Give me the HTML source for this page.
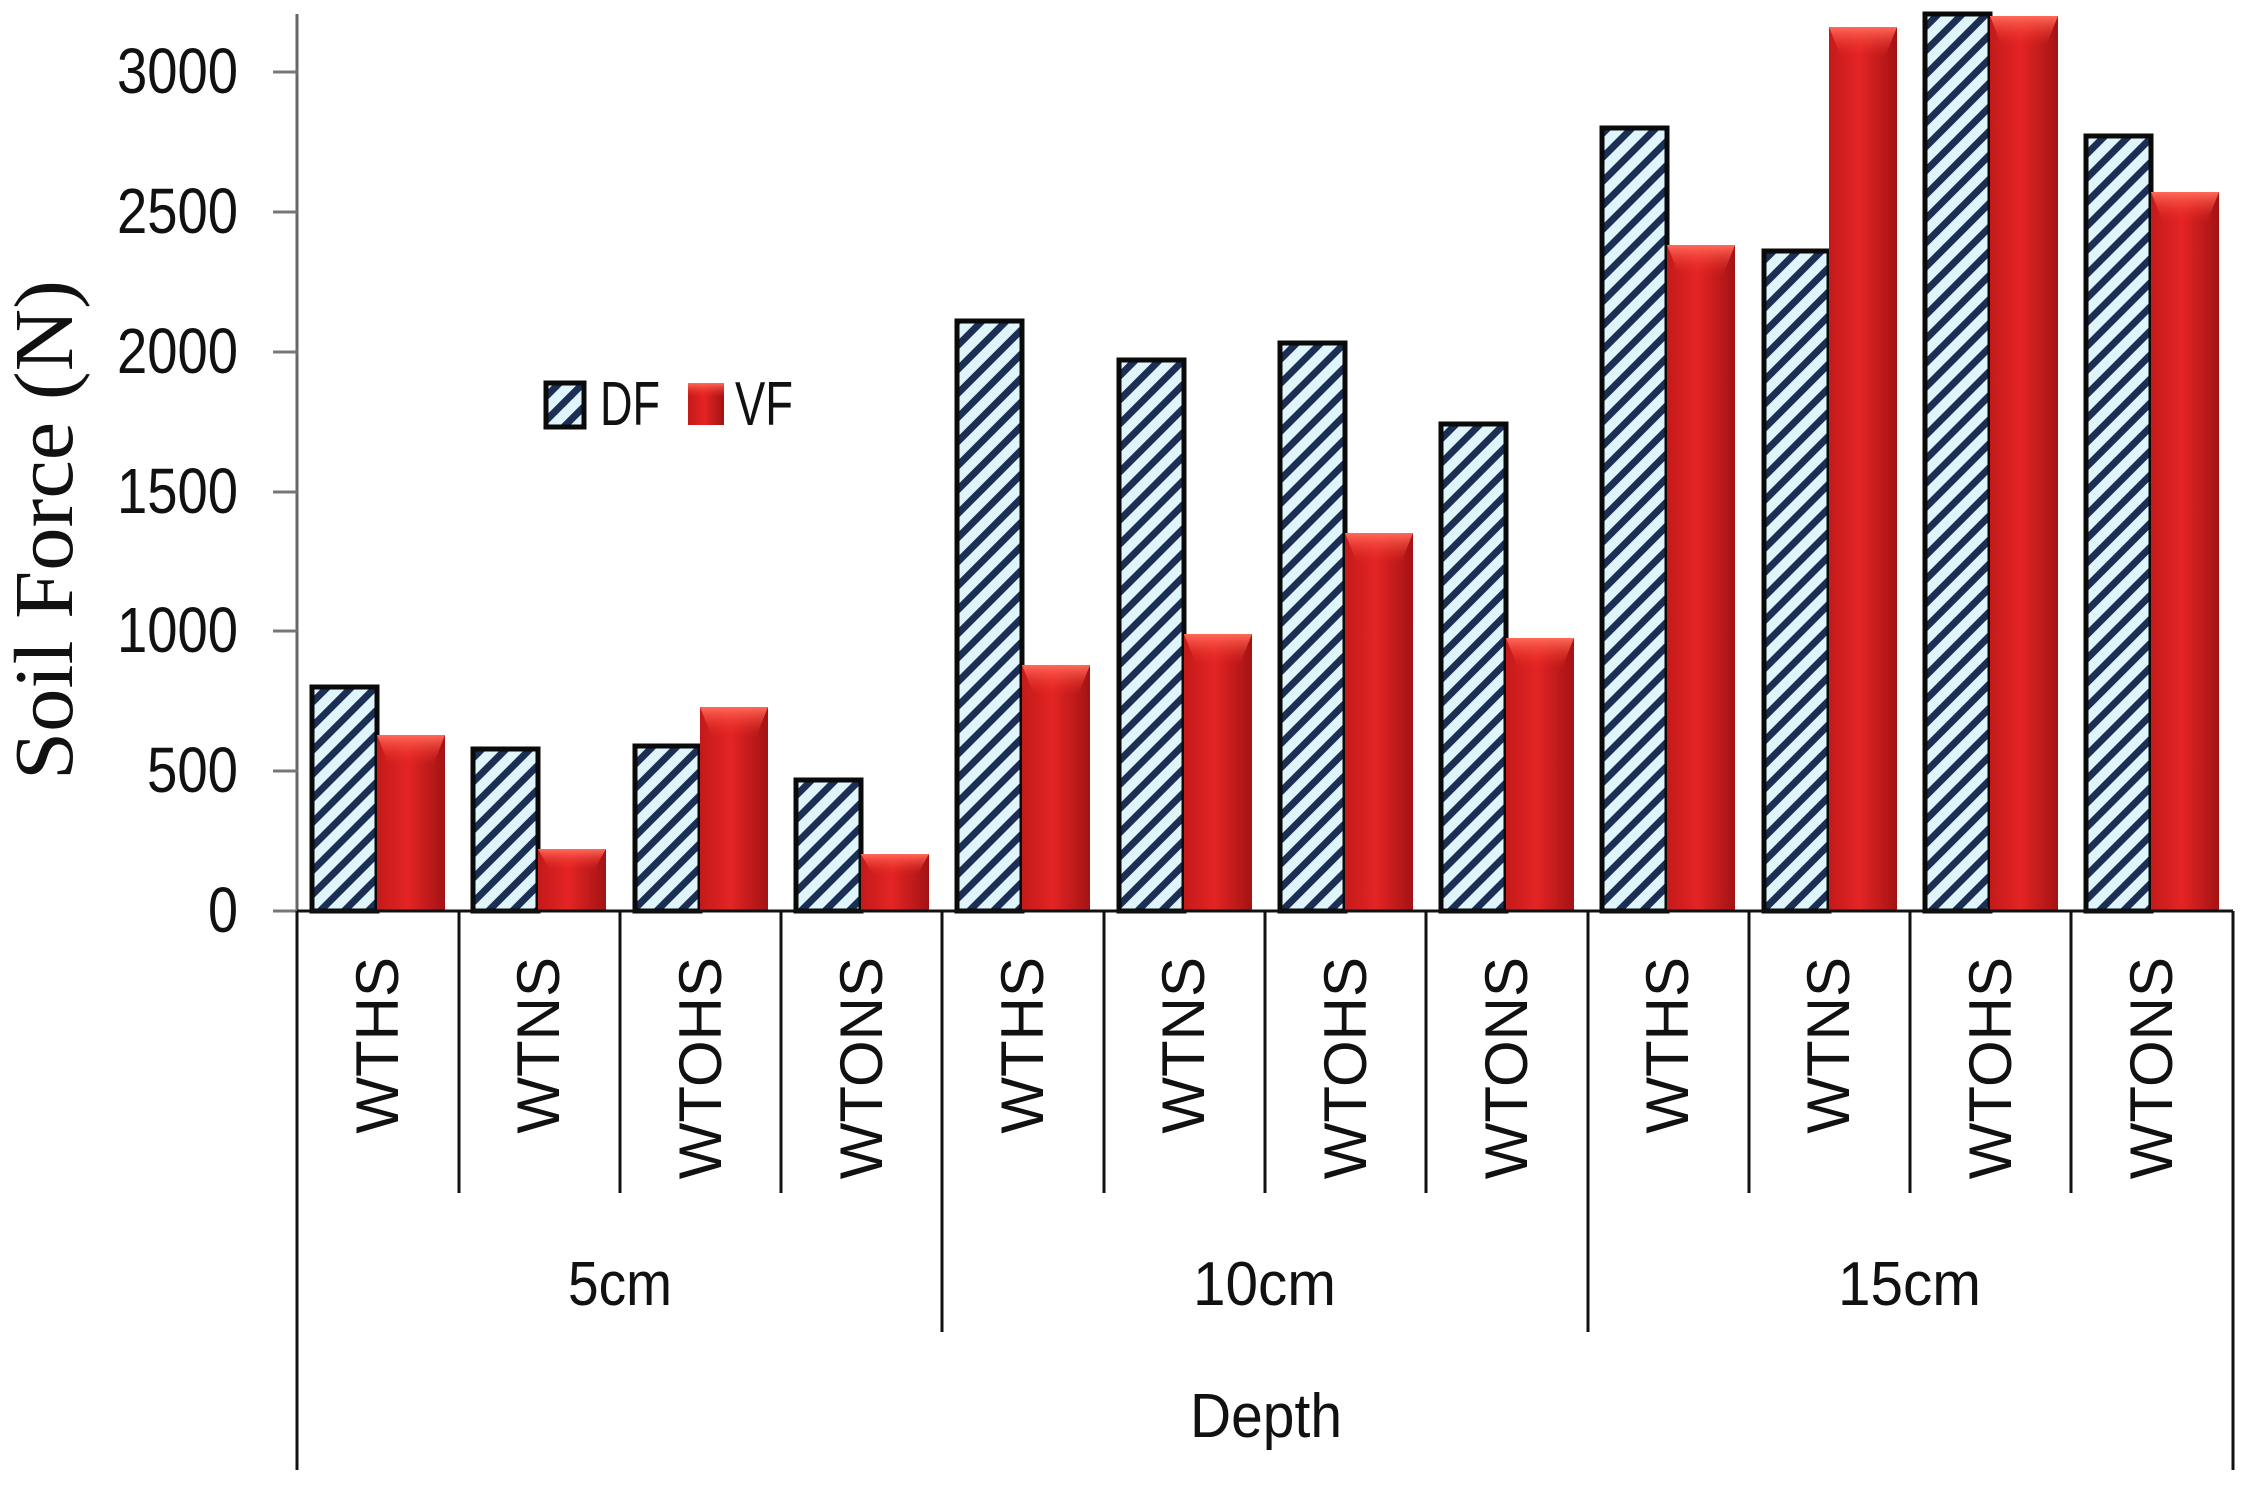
<!DOCTYPE html>
<html><head><meta charset="utf-8"><style>
html,body{margin:0;padding:0;background:#fff;}
svg{display:block;}
</style></head><body>
<svg width="2249" height="1486" viewBox="0 0 2249 1486" xmlns="http://www.w3.org/2000/svg">
<defs>
<pattern id="hatch" patternUnits="userSpaceOnUse" width="17" height="17" patternTransform="rotate(45)">
<rect width="17" height="17" fill="#dff4fb"/>
<rect x="0" y="0" width="7" height="17" fill="#1b2f55"/>
</pattern>
<linearGradient id="red" x1="0" y1="0" x2="1" y2="0">
<stop offset="0" stop-color="#c41a1a"/>
<stop offset="0.45" stop-color="#e42424"/>
<stop offset="1" stop-color="#a31313"/>
</linearGradient>
<linearGradient id="redtop" x1="0" y1="0" x2="0" y2="1">
<stop offset="0" stop-color="#ff6a5a"/>
<stop offset="1" stop-color="#f02a22" stop-opacity="0"/>
</linearGradient>
</defs>
<rect width="2249" height="1486" fill="#fff"/>

<g id="df" fill="url(#hatch)" stroke="#0a0a0a" stroke-width="5">
<rect x="312" y="687" width="65" height="224"/>
<rect x="473" y="749" width="65" height="162"/>
<rect x="635" y="746" width="65" height="165"/>
<rect x="796" y="780" width="65" height="131"/>
<rect x="957" y="321" width="65" height="590"/>
<rect x="1119" y="360" width="65" height="551"/>
<rect x="1280" y="343" width="65" height="568"/>
<rect x="1441" y="424" width="65" height="487"/>
<rect x="1602" y="128" width="65" height="783"/>
<rect x="1764" y="251" width="65" height="660"/>
<rect x="1925" y="14" width="65" height="897"/>
<rect x="2086" y="136" width="65" height="775"/>
</g>

<g id="vf">
<g fill="url(#red)">
<rect x="377" y="735" width="68" height="176"/>
<rect x="538" y="849" width="68" height="62"/>
<rect x="700" y="707" width="68" height="204"/>
<rect x="861" y="854" width="68" height="57"/>
<rect x="1022" y="665" width="68" height="246"/>
<rect x="1184" y="634" width="68" height="277"/>
<rect x="1345" y="533" width="68" height="378"/>
<rect x="1506" y="638" width="68" height="273"/>
<rect x="1667" y="245" width="68" height="666"/>
<rect x="1829" y="27" width="68" height="884"/>
<rect x="1990" y="16" width="68" height="895"/>
<rect x="2151" y="192" width="68" height="719"/>
</g>
<g fill="url(#redtop)">
<polygon points="377,735 445,735 433,765 389,765"/>
<polygon points="538,849 606,849 594,870 550,870"/>
<polygon points="700,707 768,707 756,737 712,737"/>
<polygon points="861,854 929,854 917,875 873,875"/>
<polygon points="1022,665 1090,665 1078,695 1034,695"/>
<polygon points="1184,634 1252,634 1240,664 1196,664"/>
<polygon points="1345,533 1413,533 1401,563 1357,563"/>
<polygon points="1506,638 1574,638 1562,668 1518,668"/>
<polygon points="1667,245 1735,245 1723,275 1679,275"/>
<polygon points="1829,27 1897,27 1885,57 1841,57"/>
<polygon points="1990,16 2058,16 2046,46 2002,46"/>
<polygon points="2151,192 2219,192 2207,222 2163,222"/>
</g>
</g>

<!-- axes -->
<line x1="297" y1="14" x2="297" y2="911" stroke="#666" stroke-width="3"/>
<g stroke="#777" stroke-width="3">
<line x1="273" y1="911" x2="297" y2="911"/>
<line x1="273" y1="771" x2="297" y2="771"/>
<line x1="273" y1="631" x2="297" y2="631"/>
<line x1="273" y1="492" x2="297" y2="492"/>
<line x1="273" y1="352" x2="297" y2="352"/>
<line x1="273" y1="212" x2="297" y2="212"/>
<line x1="273" y1="72" x2="297" y2="72"/>
</g>
<g font-family="'Liberation Sans',sans-serif" font-size="64" fill="#111" lengthAdjust="spacingAndGlyphs">
<text x="208" y="932" textLength="30" lengthAdjust="spacingAndGlyphs">0</text>
<text x="147" y="792" textLength="91" lengthAdjust="spacingAndGlyphs">500</text>
<text x="117" y="652" textLength="121" lengthAdjust="spacingAndGlyphs">1000</text>
<text x="117" y="513" textLength="121" lengthAdjust="spacingAndGlyphs">1500</text>
<text x="117" y="373" textLength="121" lengthAdjust="spacingAndGlyphs">2000</text>
<text x="117" y="233" textLength="121" lengthAdjust="spacingAndGlyphs">2500</text>
<text x="117" y="93" textLength="121" lengthAdjust="spacingAndGlyphs">3000</text>
</g>
<text transform="translate(72,530) rotate(-90)" font-family="'Liberation Serif',serif" font-size="84" text-anchor="middle" fill="#111" textLength="500" lengthAdjust="spacingAndGlyphs">Soil Force (N)</text>

<!-- category table lines -->
<g stroke="#111" stroke-width="3">
<line x1="297" y1="911" x2="2233" y2="911"/>
<line x1="297" y1="911" x2="297" y2="1470"/>
<line x1="2233" y1="911" x2="2233" y2="1470"/>
<line x1="459" y1="911" x2="459" y2="1193"/>
<line x1="620" y1="911" x2="620" y2="1193"/>
<line x1="781" y1="911" x2="781" y2="1193"/>
<line x1="1104" y1="911" x2="1104" y2="1193"/>
<line x1="1265" y1="911" x2="1265" y2="1193"/>
<line x1="1426" y1="911" x2="1426" y2="1193"/>
<line x1="1749" y1="911" x2="1749" y2="1193"/>
<line x1="1910" y1="911" x2="1910" y2="1193"/>
<line x1="2071" y1="911" x2="2071" y2="1193"/>
<line x1="942" y1="911" x2="942" y2="1332"/>
<line x1="1588" y1="911" x2="1588" y2="1332"/>
</g>
<g font-family="'Liberation Sans',sans-serif" font-size="60" text-anchor="end" fill="#111">
<text transform="translate(398,957) rotate(-90)">WTHS</text>
<text transform="translate(559,957) rotate(-90)">WTNS</text>
<text transform="translate(721,957) rotate(-90)">WTOHS</text>
<text transform="translate(882,957) rotate(-90)">WTONS</text>
<text transform="translate(1043,957) rotate(-90)">WTHS</text>
<text transform="translate(1204,957) rotate(-90)">WTNS</text>
<text transform="translate(1366,957) rotate(-90)">WTOHS</text>
<text transform="translate(1527,957) rotate(-90)">WTONS</text>
<text transform="translate(1688,957) rotate(-90)">WTHS</text>
<text transform="translate(1849,957) rotate(-90)">WTNS</text>
<text transform="translate(2011,957) rotate(-90)">WTOHS</text>
<text transform="translate(2172,957) rotate(-90)">WTONS</text>
</g>
<g font-family="'Liberation Sans',sans-serif" font-size="62" fill="#111">
<text x="568" y="1305" textLength="104" lengthAdjust="spacingAndGlyphs">5cm</text>
<text x="1193" y="1305" textLength="143" lengthAdjust="spacingAndGlyphs">10cm</text>
<text x="1838" y="1305" textLength="143" lengthAdjust="spacingAndGlyphs">15cm</text>
<text x="1190" y="1437" textLength="152" lengthAdjust="spacingAndGlyphs">Depth</text>
</g>

<!-- legend -->
<rect x="546" y="383" width="38" height="44" fill="url(#hatch)" stroke="#0a0a0a" stroke-width="5"/>
<rect x="688" y="383" width="36" height="42" fill="url(#red)"/>
<rect x="688" y="383" width="36" height="14" fill="url(#redtop)"/>
<g font-family="'Liberation Sans',sans-serif" font-size="62" fill="#111">
<text x="600" y="425" textLength="60" lengthAdjust="spacingAndGlyphs">DF</text>
<text x="735" y="425" textLength="58" lengthAdjust="spacingAndGlyphs">VF</text>
</g>
</svg>
</body></html>
